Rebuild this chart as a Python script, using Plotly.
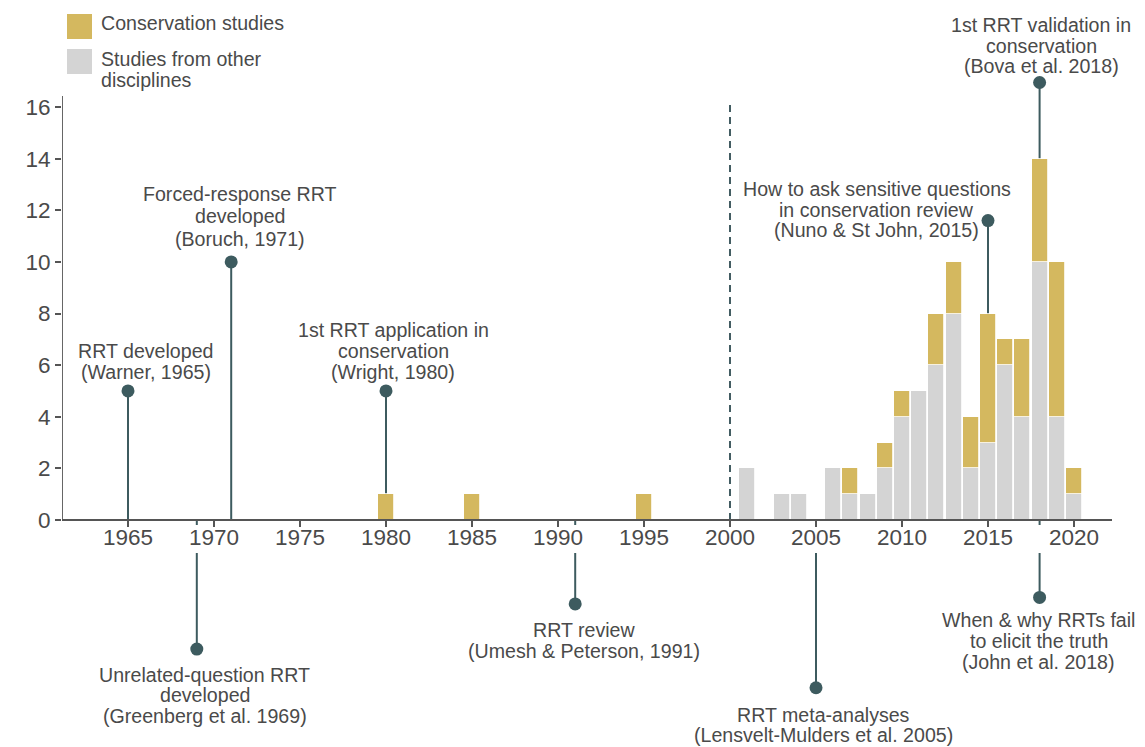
import plotly.graph_objects as go

# ---------------- data ----------------
years = [1980, 1985, 1995, 2001, 2003, 2004, 2006, 2007, 2008, 2009, 2010,
         2011, 2012, 2013, 2014, 2015, 2016, 2017, 2018, 2019, 2020]
other = [0, 0, 0, 2, 1, 1, 2, 1, 1, 2, 4, 5, 6, 8, 2, 3, 6, 4, 10, 4, 1]
conservation = [1, 1, 1, 0, 0, 0, 0, 1, 0, 1, 1, 0, 2, 2, 2, 5, 1, 3, 4, 6, 1]

xtick_vals = [1965, 1970, 1975, 1980, 1985, 1990, 1995, 2000, 2005, 2010, 2015, 2020]
ytick_vals = [0, 2, 4, 6, 8, 10, 12, 14, 16]

event_years_above = [1965, 1971, 1980, 2015, 2018]
event_height_above = [5, 10, 5, 11.6, 16.95]
event_labels_above = [
    ["RRT developed", "(Warner, 1965)"],
    ["Forced-response RRT", "developed", "(Boruch, 1971)"],
    ["1st RRT application in", "conservation", "(Wright, 1980)"],
    ["How to ask sensitive questions", "in conservation review", "(Nuno & St John, 2015)"],
    ["1st RRT validation in", "conservation", "(Bova et al. 2018)"],
]
event_years_below = [1969, 1991, 2005, 2018]
event_height_below = [-5.0, -3.25, -6.5, -3.0]
event_labels_below = [
    ["Unrelated-question RRT", "developed", "(Greenberg et al. 1969)"],
    ["RRT review", "(Umesh & Peterson, 1991)"],
    ["RRT meta-analyses", "(Lensvelt-Mulders et al. 2005)"],
    ["When & why RRTs fail", "to elicit the truth", "(John et al. 2018)"],
]
divider_year = 2000

# ---------------- layout helpers (pixel -> data) ----------------
W, H = 1145, 747
ML, MR, MT, MB = 62, 33, 10, 10
PX_PER_YEAR = 17.2
PX_PER_UNIT = 25.81
X0_PX, X0_YEAR = 128, 1965
Y0_PX = 520


def px2x(px):
    return X0_YEAR + (px - X0_PX) / PX_PER_YEAR


def px2y(py):
    return (Y0_PX - py) / PX_PER_UNIT


xmin, xmax = px2x(ML), px2x(W - MR)
ymin, ymax = px2y(H - MB), px2y(MT)

# label placement (pixel centres of each text line)
label_pos_above = [
    (145.5, [350.8, 371.5]),
    (239.5, [193.5, 216.0, 239.0]),
    (393.0, [330.0, 351.0, 371.5]),
    (876.5, [189.0, 209.5, 230.0]),
    (1041.0, [25.0, 45.5, 66.0]),
]
label_pos_below = [
    (204.5, [674.5, 695.0, 715.5]),
    (584.0, [630.0, 650.7]),
    (823.0, [714.5, 735.2]),
    (1038.5, [620.0, 641.0, 662.0]),
]

GOLD = "#D4B85F"
GREY = "#D4D4D4"
STEM = "#3D5B5F"
AXIS = "#555555"
TEXT = "#4A4A4A"
FONT = "Liberation Sans, Arial, Helvetica, sans-serif"
LABEL_SIZE = 19.6
TICK_SIZE = 22.5

fig = go.Figure()

fig.add_trace(go.Bar(
    x=years, y=other, name="Studies from other disciplines",
    marker=dict(color=GREY, line=dict(color="white", width=0.8)),
    width=0.93, showlegend=False, hoverinfo="x+y",
))
fig.add_trace(go.Bar(
    x=years, y=conservation, name="Conservation studies",
    marker=dict(color=GOLD, line=dict(color="white", width=0.8)),
    width=0.93, showlegend=False, hoverinfo="x+y",
))

# event dots
fig.add_trace(go.Scatter(
    x=event_years_above + event_years_below,
    y=event_height_above + event_height_below,
    mode="markers", marker=dict(color=STEM, size=13),
    showlegend=False, hoverinfo="skip", cliponaxis=False,
))

shapes = []
for yr, h in zip(event_years_above, event_height_above):
    shapes.append(dict(type="line", xref="x", yref="y", x0=yr, x1=yr, y0=0, y1=h,
                       line=dict(color=STEM, width=2), layer="below"))
gap_top = px2y(Y0_PX + 5)
gap_bot = px2y(553)
for yr, h in zip(event_years_below, event_height_below):
    shapes.append(dict(type="line", xref="x", yref="y", x0=yr, x1=yr, y0=0, y1=gap_top,
                       line=dict(color=STEM, width=2), layer="below"))
    shapes.append(dict(type="line", xref="x", yref="y", x0=yr, x1=yr, y0=gap_bot, y1=h,
                       line=dict(color=STEM, width=2), layer="below"))
shapes.append(dict(type="line", xref="x", yref="y", x0=divider_year, x1=divider_year,
                   y0=0, y1=px2y(104), line=dict(color="#2F4C52", width=1.8, dash="7px,5px"),
                   layer="below"))
shapes.append(dict(type="line", xref="x", yref="y", x0=xmin, x1=xmin, y0=0, y1=px2y(96),
                   line=dict(color=AXIS, width=1.8)))
shapes.append(dict(type="rect", xref="x", yref="y", x0=px2x(67), x1=px2x(92),
                   y0=px2y(39), y1=px2y(14), fillcolor=GOLD, line=dict(width=0)))
shapes.append(dict(type="rect", xref="x", yref="y", x0=px2x(67), x1=px2x(92),
                   y0=px2y(74), y1=px2y(49), fillcolor=GREY, line=dict(width=0)))

annotations = []
for lines, (cx, ys) in zip(event_labels_above + event_labels_below,
                           label_pos_above + label_pos_below):
    for txt, cy in zip(lines, ys):
        annotations.append(dict(x=px2x(cx), y=px2y(cy), xref="x", yref="y", text=txt,
                                showarrow=False, xanchor="center", yanchor="middle",
                                font=dict(family=FONT, size=LABEL_SIZE, color=TEXT)))
for txt, cy in [("Conservation studies", 22.5), ("Studies from other", 59.0),
                ("disciplines", 79.5)]:
    annotations.append(dict(x=px2x(99), y=px2y(cy), xref="x", yref="y", text=txt,
                            showarrow=False, xanchor="left", yanchor="middle",
                            font=dict(family=FONT, size=LABEL_SIZE, color=TEXT)))
annotations.append(dict(x=px2x(20), y=px2y(306), xref="x", yref="y", text="<b><i>N</i></b>",
                        showarrow=False, textangle=-90, xanchor="center", yanchor="middle",
                        font=dict(family=FONT, size=20, color=TEXT)))

fig.update_layout(
    width=W, height=H,
    margin=dict(l=ML, r=MR, t=MT, b=MB),
    paper_bgcolor="white", plot_bgcolor="white",
    barmode="stack", bargap=0,
    shapes=shapes, annotations=annotations,
    font=dict(family=FONT, color=TEXT),
    xaxis=dict(range=[xmin, xmax], tickvals=xtick_vals, ticks="outside", ticklen=6,
               tickwidth=1.8, tickcolor=AXIS, showline=True, linecolor=AXIS, linewidth=1.8,
               showgrid=False, zeroline=False, anchor="free",
               position=(0 - ymin) / (ymax - ymin), ticklabelstandoff=-9,
               tickfont=dict(family=FONT, size=TICK_SIZE, color=TEXT)),
    yaxis=dict(range=[ymin, ymax], tickvals=ytick_vals, ticks="outside", ticklen=6,
               tickwidth=1.8, tickcolor=AXIS, showline=False, showgrid=False,
               zeroline=False, tickfont=dict(family=FONT, size=TICK_SIZE, color=TEXT)),
)

fig.write_html(
    "out.html",
    config={"displayModeBar": False},
    post_script="document.body.style.margin='0';document.body.style.overflow='hidden';",
)
